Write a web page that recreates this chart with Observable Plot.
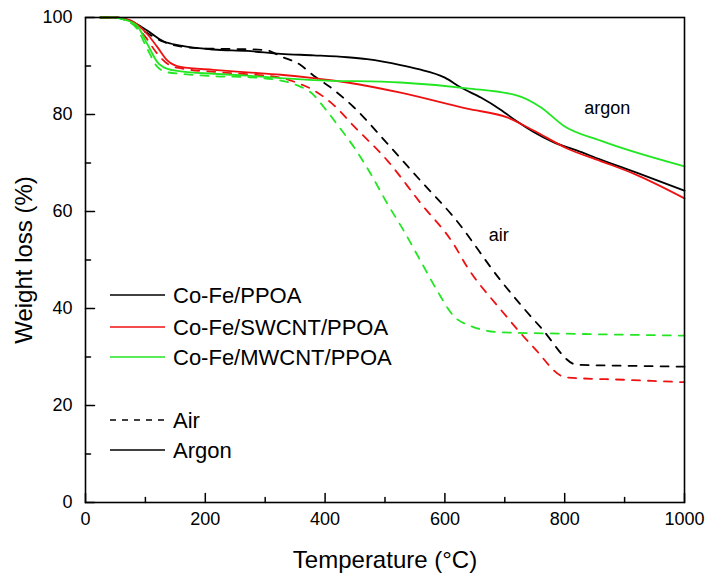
<!DOCTYPE html>
<html><head><meta charset="utf-8">
<script src="https://cdn.jsdelivr.net/npm/d3@7"></script>
<script src="https://cdn.jsdelivr.net/npm/@observablehq/plot@0.6"></script>
<style>
body{margin:0;background:#fff;}
#chart{width:714px;height:578px;}
</style></head><body><div id="chart"></div>
<script>
// ---- data ----
const xTicks = [0, 200, 400, 600, 800, 1000];
const xMinor = [100, 300, 500, 700, 900];
const yTicks = [0, 20, 40, 60, 80, 100];
const yMinor = [10, 30, 50, 70, 90];

const sampleNames = ["Co-Fe/PPOA", "Co-Fe/SWCNT/PPOA", "Co-Fe/MWCNT/PPOA"];
const sampleColors = ["#000000", "#ee1111", "#22e622"];
const atmosphereNames = ["Air", "Argon"];

// Co-Fe/PPOA, argon
const ppoaArT = [25, 50, 75, 103, 130, 159, 214, 270, 326, 381, 437, 470, 526, 554, 600, 626, 660, 693, 720, 748, 781, 820, 860, 920, 1000];
const ppoaArW = [100, 100, 99.3, 97.3, 95.1, 94.2, 93.4, 93.1, 92.5, 92.2, 91.8, 91.4, 90.2, 89.4, 87.6, 85.6, 83.5, 81.0, 78.6, 76.4, 74.3, 72.6, 70.7, 68.0, 64.3];
// Co-Fe/PPOA, air
const ppoaAirT = [25, 50, 75, 100, 130, 160, 200, 250, 300, 326, 359, 381, 409, 448, 504, 559, 615, 693, 760, 821, 900, 1000];
const ppoaAirW = [100, 100, 99.0, 97.0, 95.0, 94.0, 93.6, 93.5, 93.3, 92.0, 90.2, 88.0, 85.6, 81.5, 74.0, 66.4, 58.8, 45.8, 36.1, 28.4, 28.2, 28.0];
// Co-Fe/SWCNT/PPOA, argon
const swArT = [25, 50, 75, 103, 120, 137, 159, 214, 270, 326, 381, 437, 526, 637, 704, 748, 804, 860, 915, 1000];
const swArW = [100, 100, 99.4, 96.6, 93.9, 91.1, 89.8, 89.2, 88.7, 88.2, 87.5, 86.6, 84.5, 81.2, 79.4, 76.7, 73.0, 70.4, 67.8, 62.7];
// Co-Fe/SWCNT/PPOA, air
const swAirT = [25, 50, 75, 100, 120, 140, 160, 214, 270, 326, 354, 381, 414, 448, 504, 559, 615, 637, 693, 748, 802, 900, 1000];
const swAirW = [100, 100, 99.2, 96.0, 92.5, 90.2, 89.5, 88.8, 88.3, 87.6, 86.5, 85.0, 82.0, 77.6, 70.5, 61.8, 53.2, 48.6, 39.8, 32.0, 25.8, 25.3, 24.8];
// Co-Fe/MWCNT/PPOA, argon
const mwArT = [25, 50, 64, 86, 103, 120, 137, 159, 214, 270, 326, 381, 526, 637, 721, 760, 798, 860, 1000];
const mwArW = [100, 100, 99.6, 98.3, 94.6, 90.8, 89.4, 88.9, 88.4, 88.0, 87.5, 87.1, 86.6, 85.4, 83.9, 81.5, 77.7, 74.6, 69.3];
// Co-Fe/MWCNT/PPOA, air
const mwAirT = [25, 50, 65, 86, 103, 120, 137, 159, 214, 270, 326, 354, 381, 398, 426, 448, 476, 504, 531, 559, 587, 615, 643, 693, 804, 1000];
const mwAirW = [100, 100, 99.5, 97.7, 93.6, 89.8, 88.7, 88.4, 87.9, 87.7, 87.0, 86.0, 84.0, 81.5, 77.0, 73.3, 67.8, 61.6, 56.1, 49.9, 43.7, 38.4, 36.4, 35.1, 34.8, 34.4];

const annotationText = ["argon", "air"];
const annotationT = [871, 690];
const annotationW = [81.2, 55.1];

// ---- build table ----
function rowsOf(T, W, sample, atm) {
  return T.map((t, i) => ({T: t, w: W[i], sample, atm}));
}
const rows = [
  ...rowsOf(ppoaArT, ppoaArW, sampleNames[0], "Argon"),
  ...rowsOf(ppoaAirT, ppoaAirW, sampleNames[0], "Air"),
  ...rowsOf(swArT, swArW, sampleNames[1], "Argon"),
  ...rowsOf(swAirT, swAirW, sampleNames[1], "Air"),
  ...rowsOf(mwArT, mwArW, sampleNames[2], "Argon"),
  ...rowsOf(mwAirT, mwAirW, sampleNames[2], "Air")
];
const annotations = annotationText.map((t, i) => ({text: t, T: annotationT[i], w: annotationW[i]}));

const font = "Arial, 'Liberation Sans', Helvetica, sans-serif";
const colorScale = {domain: sampleNames, range: sampleColors};
const tickShape = {draw(context, l) { context.moveTo(0, 0); context.lineTo(0, -l); }};
const tickOpts = {shape: tickShape, anchor: "start", stroke: "#000", strokeWidth: 1.5};

const plot = Plot.plot({
  width: 714, height: 578,
  marginLeft: 85, marginRight: 30, marginTop: 17, marginBottom: 76,
  style: {fontFamily: font, background: "#fff", color: "#000", overflow: "visible"},
  x: {domain: [0, 1000]},
  y: {domain: [0, 100]},
  color: colorScale,
  marks: [
    Plot.line(rows.filter(d => d.atm === "Air"), {x: "T", y: "w", z: "sample", stroke: "sample", strokeWidth: 1.8, strokeDasharray: "8,8", curve: "monotone-x"}),
    Plot.line(rows.filter(d => d.atm === "Argon"), {x: "T", y: "w", z: "sample", stroke: "sample", strokeWidth: 1.8, curve: "monotone-x"}),
    Plot.frame({stroke: "#000", strokeWidth: 1.6}),
    // inward ticks
    Plot.vectorX(xTicks, {x: d => d, frameAnchor: "bottom", rotate: 0, length: 9, ...tickOpts}),
    Plot.vectorX(xMinor, {x: d => d, frameAnchor: "bottom", rotate: 0, length: 5, ...tickOpts}),
    Plot.vectorY(yTicks, {y: d => d, frameAnchor: "left", rotate: 90, length: 9, ...tickOpts}),
    Plot.vectorY(yMinor, {y: d => d, frameAnchor: "left", rotate: 90, length: 5, ...tickOpts}),
    Plot.axisX({ticks: xTicks, tickSize: 0, tickPadding: 10, fontSize: 18, label: null, tickFormat: d => String(d)}),
    Plot.axisY({ticks: yTicks, tickSize: 0, tickPadding: 13, fontSize: 18, label: null, tickFormat: d => String(d)}),
    Plot.text(["Temperature (°C)"], {frameAnchor: "bottom", dy: 58, fontSize: 24, lineAnchor: "middle"}),
    Plot.text(["Weight loss (%)"], {frameAnchor: "left", dx: -61, rotate: -90, fontSize: 24, textAnchor: "middle"}),
    Plot.text(annotations, {x: "T", y: "w", text: "text", fontSize: 18, textAnchor: "middle"})
  ]
});
document.getElementById("chart").appendChild(plot);

// ---- in-plot legend ----
const svg = d3.select(plot);
const lg = svg.append("g").attr("font-family", font).attr("font-size", 22).attr("text-anchor", "start");
const legendItems = [
  {label: sampleNames[0], color: sampleColors[0], dash: null, y: 295},
  {label: sampleNames[1], color: sampleColors[1], dash: null, y: 327},
  {label: sampleNames[2], color: sampleColors[2], dash: null, y: 357},
  {label: atmosphereNames[0], color: "#000", dash: "6,6", y: 420},
  {label: atmosphereNames[1], color: "#000", dash: null, y: 450}
];
legendItems.forEach(it => {
  lg.append("line").attr("x1", 110).attr("x2", 165).attr("y1", it.y).attr("y2", it.y)
    .attr("stroke", it.color).attr("stroke-width", 1.6).attr("stroke-dasharray", it.dash);
  lg.append("text").attr("x", 173).attr("y", it.y).attr("dy", "0.35em")
    .attr("text-anchor", "start").attr("fill", "#000").text(it.label);
});
</script>
</body></html>
